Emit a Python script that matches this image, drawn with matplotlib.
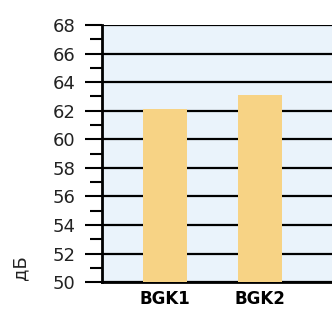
import matplotlib.pyplot as plt
import numpy as np
from matplotlib.ticker import MultipleLocator

categories = ["BGK1", "BGK2"]
values = [62.1, 63.1]
y_ticks = [50, 52, 54, 56, 58, 60, 62, 64, 66, 68]

plt.rcParams["font.family"] = ["DejaVu Sans"]

fig = plt.figure(figsize=(3.32, 3.09), dpi=100)
ax = fig.add_axes([0.307, 0.087, 0.693, 0.832])
ax.set_facecolor("#eaf3fb")

x = np.arange(len(categories))
ax.bar(x, values, width=0.47, color="#f7d385", zorder=3)

ax.set_xlim(-0.663, 1.758)
ax.set_ylim(50, 68)
ax.set_yticks(y_ticks)
ax.yaxis.set_minor_locator(MultipleLocator(1))
ax.grid(axis="y", which="major", color="black", lw=1.6, zorder=1)

ax.set_xticks(x)
ax.set_xticklabels(categories, fontweight="bold", fontsize=12)
ax.tick_params(axis="x", length=0, pad=6)
ax.tick_params(axis="y", which="major", length=12, width=1.5, labelsize=13,
               pad=7, labelcolor="#222222")
ax.tick_params(axis="y", which="minor", length=9, width=1.5)

for s in ["top", "right"]:
    ax.spines[s].set_visible(False)
ax.spines["left"].set_linewidth(2)
ax.spines["bottom"].set_linewidth(2)

fig.text(0.062, 0.135, "дБ", rotation=90, fontsize=13, ha="center", va="center",
         color="#222222")

fig.savefig("out.png", dpi=100)
